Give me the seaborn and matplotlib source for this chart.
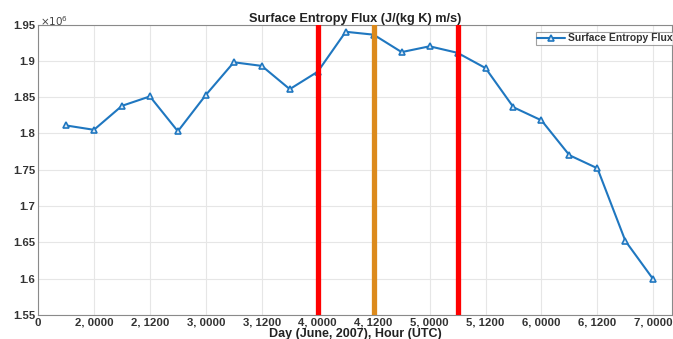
import numpy as np
import pandas as pd
import matplotlib
matplotlib.use("Agg")
import matplotlib.pyplot as plt
from matplotlib.ticker import FuncFormatter
import seaborn as sns

# ---- data ----
hours = [6, 12, 18, 24, 30, 36, 42, 48, 54, 60, 66, 72, 78, 84, 90, 96, 102, 108, 114, 120, 126, 132]
flux = [1.811e6, 1.805e6, 1.838e6, 1.851e6, 1.803e6, 1.853e6, 1.898e6, 1.893e6, 1.861e6, 1.885e6,
        1.940e6, 1.936e6, 1.912e6, 1.920e6, 1.911e6, 1.890e6, 1.836e6, 1.818e6, 1.770e6, 1.752e6,
        1.652e6, 1.599e6]
tick_hours = [0, 12, 24, 36, 48, 60, 72, 84, 96, 108, 120, 132]
tick_labels = ['0', '2, 0000', '2, 1200', '3, 0000', '3, 1200', '4, 0000', '4, 1200',
               '5, 0000', '5, 1200', '6, 0000', '6, 1200', '7, 0000']
yticks = [1.55e6, 1.6e6, 1.65e6, 1.7e6, 1.75e6, 1.8e6, 1.85e6, 1.9e6, 1.95e6]
red_lines = [60, 90]
orange_lines = [72]

df = pd.DataFrame({"hour": hours, "flux": flux})

sns.set_theme(style="white")
plt.rcParams['font.family'] = ['Liberation Sans', 'DejaVu Sans']

fig = plt.figure(figsize=(6.73, 3.39), dpi=100)
ax = fig.add_axes([0.0565, 0.0708, 0.942, 0.8569])

blue = '#1f77c0'
sns.lineplot(data=df, x="hour", y="flux", ax=ax, color=blue, linewidth=1.5,
             marker='^', markersize=5, markerfacecolor='#dfeaf5', markeredgecolor=blue,
             markeredgewidth=1.2, label='Surface Entropy Flux', zorder=3)

for xv in red_lines:
    ax.axvline(xv, color='#ff0000', linewidth=3.8, zorder=4)
for xv in orange_lines:
    ax.axvline(xv, color='#dc8a1c', linewidth=3.8, zorder=4)

ax.set_xlim(0, 136)
ax.set_ylim(1.55e6, 1.95e6)
ax.set_xticks(tick_hours)
ax.set_xticklabels(tick_labels)
ax.set_yticks(yticks)
ax.yaxis.set_major_formatter(FuncFormatter(lambda v, p: f"{v/1e6:g}"))
ax.grid(True, color='#e6e6e6', linewidth=0.8)
ax.set_axisbelow(True)

for s in ax.spines.values():
    s.set_color('#8a8a8a')
    s.set_linewidth(0.8)
ax.tick_params(axis='both', direction='in', length=3, color='#8a8a8a',
               labelsize=8.2, pad=2, labelcolor='#333333')
for lab in ax.get_xticklabels() + ax.get_yticklabels():
    lab.set_fontweight('bold')

ax.text(0.003, 1.012, r'$\times10^6$', transform=ax.transAxes, fontsize=7.5,
        color='#444444', ha='left', va='center')
ax.set_title('Surface Entropy Flux (J/(kg K) m/s)', fontsize=9.2, fontweight='bold',
             color='#222222', pad=2)
ax.set_xlabel('Day (June, 2007), Hour (UTC)', fontsize=9, fontweight='bold',
              color='#222222', labelpad=0.5)
ax.set_ylabel('')

leg = ax.legend(loc='upper right', bbox_to_anchor=(1.003, 0.975), fontsize=7.5,
                frameon=True, fancybox=False, borderpad=0.15, handlelength=2.6,
                handletextpad=0.3, borderaxespad=0.0)
leg.get_frame().set_edgecolor('#8a8a8a')
leg.get_frame().set_linewidth(0.8)
for t in leg.get_texts():
    t.set_fontweight('bold')
    t.set_color('#333333')

fig.savefig('out.png', dpi=100)
